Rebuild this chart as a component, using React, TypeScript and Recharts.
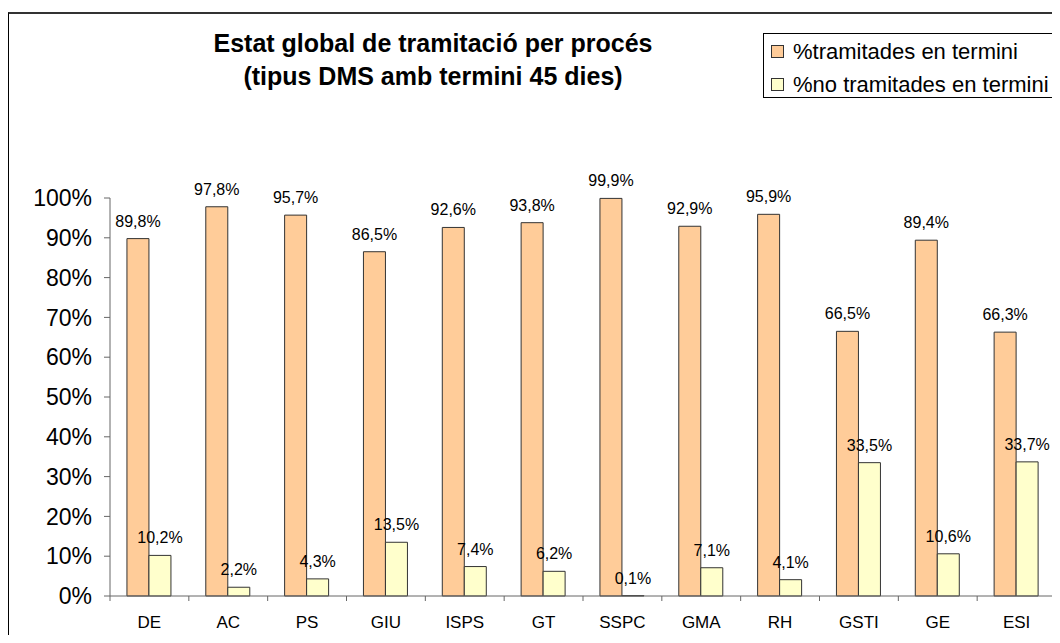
import { Bar, BarChart, LabelList, XAxis, YAxis } from 'recharts';

// Processos (tipus DMS, termini 45 dies)
const processos = ['DE', 'AC', 'PS', 'GIU', 'ISPS', 'GT', 'SSPC', 'GMA', 'RH', 'GSTI', 'GE', 'ESI'];
const tramitadesEnTermini = [89.8, 97.8, 95.7, 86.5, 92.6, 93.8, 99.9, 92.9, 95.9, 66.5, 89.4, 66.3];
const noTramitadesEnTermini = [10.2, 2.2, 4.3, 13.5, 7.4, 6.2, 0.1, 7.1, 4.1, 33.5, 10.6, 33.7];
const yTicks = [0, 10, 20, 30, 40, 50, 60, 70, 80, 90, 100];

const SERIES = [
  { key: 'tram', label: '%tramitades en termini', color: '#FFCC99' },
  { key: 'noTram', label: '%no tramitades en termini', color: '#FFFFCC' },
];

const FONT = '"Liberation Sans", Arial, Helvetica, sans-serif';
const CHART_W = 1050;
const CHART_H = 621;
const Y_AXIS_W = 101;
const MARGIN = { top: 184, right: 3, left: 0, bottom: 0 };
const X_TICK_SIZE = 5;
const X_TICK_MARGIN = 15;
const BAND = (CHART_W - Y_AXIS_W - MARGIN.left - MARGIN.right) / processos.length;

const data = processos.map((p, i) => ({
  proces: p,
  tram: tramitadesEnTermini[i],
  noTram: noTramitadesEnTermini[i],
}));

const pct = (v: number) => `${v.toFixed(1).replace('.', ',')}%`;

// Excel-style category axis: tick marks between categories, label in the middle.
function CategoryTick(props: any) {
  const { x, y, payload, index } = props;
  const axisY = y - X_TICK_SIZE - X_TICK_MARGIN;
  const left = x - BAND / 2;
  const right = x + BAND / 2;
  return (
    <g>
      <line x1={left} x2={left} y1={axisY} y2={axisY + X_TICK_SIZE} stroke="#666" />
      {index === processos.length - 1 && (
        <line x1={right} x2={right} y1={axisY} y2={axisY + X_TICK_SIZE} stroke="#666" />
      )}
      <text x={x} y={y} dy="0.71em" textAnchor="middle" fontSize={17} fill="#000">
        {payload.value}
      </text>
    </g>
  );
}

export default function App() {
  return (
    <div
      style={{
        marginTop: 4,
        width: CHART_W,
        height: CHART_H,
        borderTop: '2px solid #333',
        borderLeft: '1px solid #000',
        position: 'relative',
        background: '#fff',
        fontFamily: FONT,
      }}
    >
      <div
        style={{
          position: 'absolute',
          top: 13,
          left: 124,
          width: 600,
          textAlign: 'center',
          fontWeight: 'bold',
          fontSize: 25,
          lineHeight: '33px',
          color: '#000',
        }}
      >
        Estat global de tramitació per procés
        <br />
        (tipus DMS amb termini 45 dies)
      </div>

      <div
        style={{
          position: 'absolute',
          top: 19,
          left: 754,
          width: 291,
          height: 63,
          border: '1px solid #000',
          background: '#fff',
          fontSize: 22,
          color: '#000',
        }}
      >
        {SERIES.map((s, i) => (
          <div
            key={s.key}
            style={{
              position: 'absolute',
              left: 7,
              top: 1 + i * 33,
              height: 33,
              display: 'flex',
              alignItems: 'center',
              whiteSpace: 'nowrap',
            }}
          >
            <span
              style={{
                display: 'inline-block',
                width: 11,
                height: 11,
                background: s.color,
                border: '1px solid #333',
                marginRight: 9,
              }}
            />
            {s.label}
          </div>
        ))}
      </div>

      <BarChart
        width={CHART_W}
        height={CHART_H}
        data={data}
        margin={MARGIN}
        barCategoryGap="21.5%"
        barGap={0}
      >
        <XAxis
          dataKey="proces"
          height={CHART_H - MARGIN.top - 398}
          tickSize={X_TICK_SIZE}
          tickMargin={X_TICK_MARGIN}
          tickLine={false}
          axisLine={{ stroke: '#666' }}
          tick={<CategoryTick />}
          interval={0}
        />
        <YAxis
          width={Y_AXIS_W}
          domain={[0, 100]}
          ticks={yTicks}
          interval={0}
          tickFormatter={(v: number) => `${v}%`}
          tick={{ fontSize: 23, fill: '#000' }}
          tickSize={6}
          tickMargin={12}
          tickLine={{ stroke: '#666' }}
          axisLine={{ stroke: '#666' }}
        />
        {SERIES.map((s) => (
          <Bar
            key={s.key}
            dataKey={s.key}
            name={s.label}
            fill={s.color}
            stroke="#333"
            strokeWidth={1}
            isAnimationActive={false}
          >
            <LabelList
              dataKey={s.key}
              position="top"
              offset={12}
              formatter={(v: any) => pct(Number(v))}
              style={{ fontSize: 16, fill: '#000' }}
            />
          </Bar>
        ))}
      </BarChart>
    </div>
  );
}
